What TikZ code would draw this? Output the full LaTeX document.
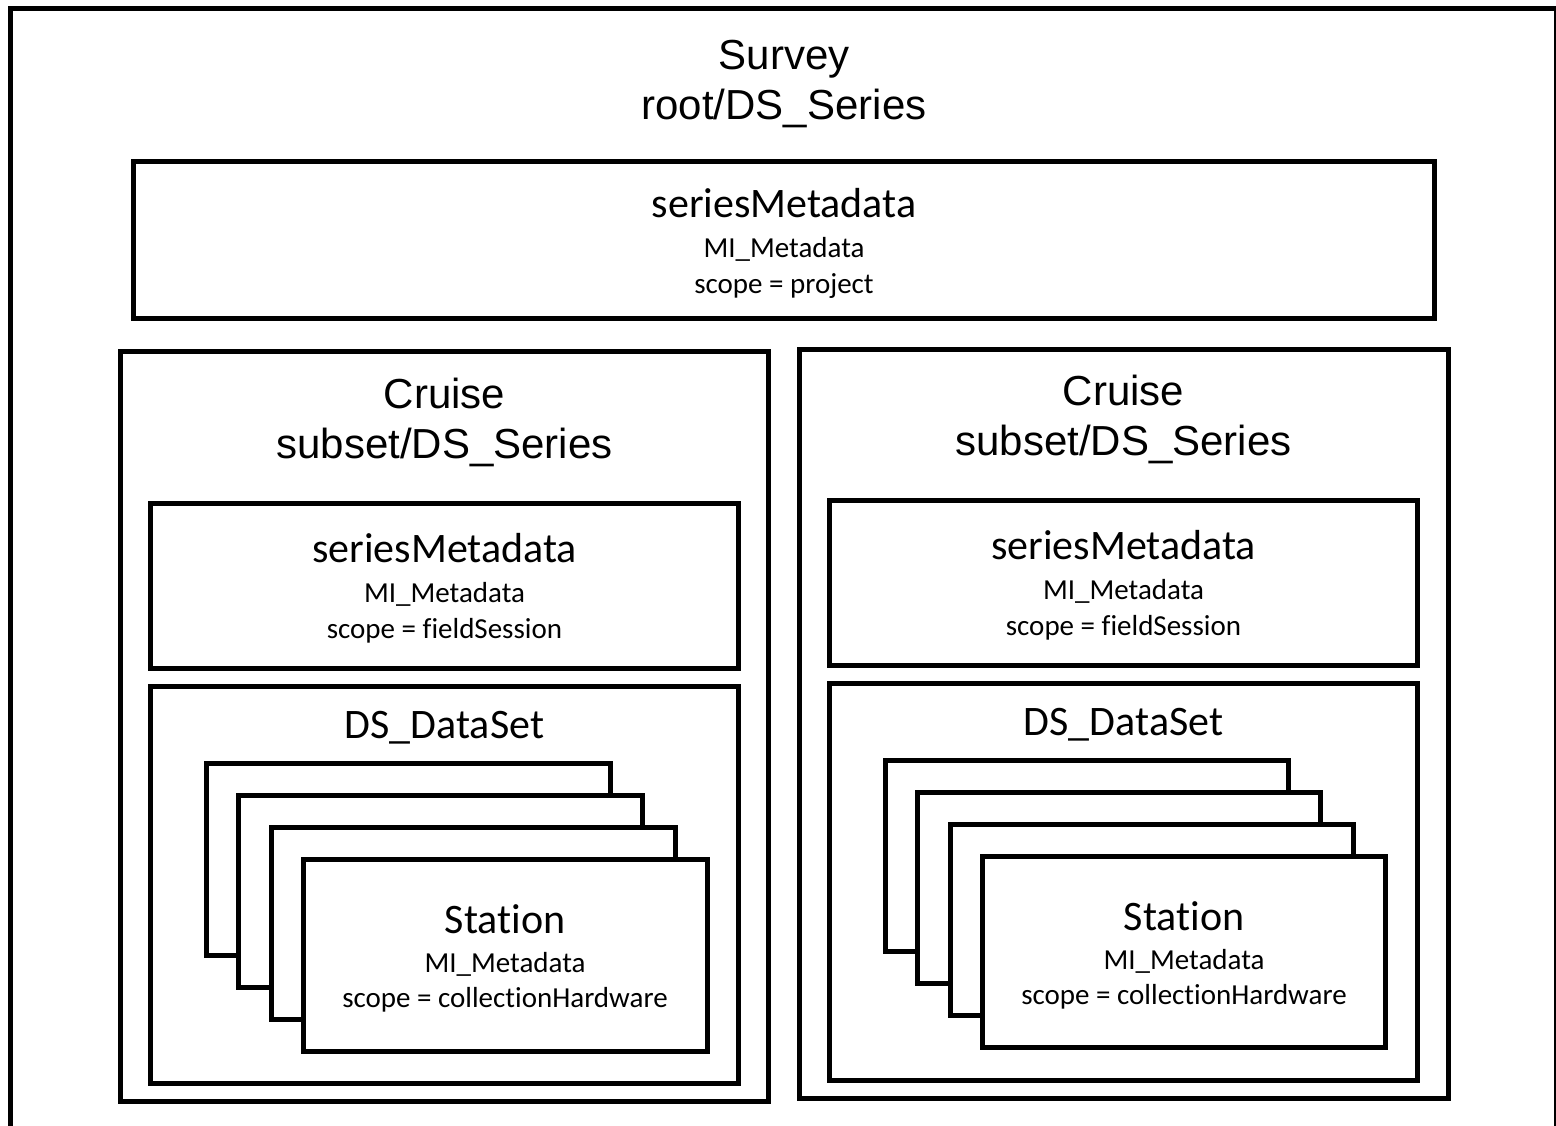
\documentclass[tikz,border=0pt]{standalone}
\usepackage{fontspec}
\newfontfamily\arialf{Liberation Sans}
\newfontfamily\calf[Ligatures=NoCommon]{Carlito}
\begin{document}
\begin{tikzpicture}[x=1pt,y=-1pt,
  box/.style={draw=black, line width=5pt, fill=white, rectangle, inner sep=0pt, outer sep=0pt, anchor=north west},
  ttl/.style={font=\arialf\fontsize{42}{48}\selectfont, inner sep=0pt, anchor=base},
  big/.style={font=\calf\fontsize{42}{48}\selectfont, inner sep=0pt, anchor=base},
  small/.style={font=\calf\fontsize{29}{34}\selectfont, inner sep=0pt, anchor=base}]
\useasboundingbox (0,0) rectangle (1556,1125);
\clip (0,0) rectangle (1556,1125);
\fill[white] (0,0) rectangle (1556,1125);
% outer survey frame (bottom lies below the page)
\node[box, minimum width=1546pt, minimum height=1132pt] (survey) at (10.5,8) {};
\node[ttl] (surveyA) at (784,69) {Survey};
\node[ttl] (surveyB) at (784,119) {root/DS\_Series};
% top seriesMetadata
\node[box, minimum width=1301pt, minimum height=157.5pt] (topsm) at (133.5,161) {};
\node[big] (topsmA) at (784,217) {seriesMetadata};
\node[small] (topsmB) at (784,257) {MI\_Metadata};
\node[small] (topsmC) at (784,293) {scope = project};
% left cruise
\node[box, minimum width=648pt, minimum height=750pt] (lcr) at (120.5,351.5) {};
\node[ttl] (lcrA) at (444.5,408) {Cruise};
\node[ttl] (lcrB) at (444.5,458) {subset/DS\_Series};
\node[box, minimum width=588pt, minimum height=165pt] (lsm) at (150.5,503) {};
\node[big] (lsmA) at (444.5,562.5) {seriesMetadata};
\node[small] (lsmB) at (444.5,602.5) {MI\_Metadata};
\node[small] (lsmC) at (444.5,638.5) {scope = fieldSession};
\node[box, minimum width=588pt, minimum height=397.5pt] (lds) at (150.5,686) {};
\node[big] (ldsA) at (444.5,738) {DS\_DataSet};
\node[box, minimum width=404pt, minimum height=192.5pt] (lc1) at (206,763) {};
\node[box, minimum width=404pt, minimum height=192.5pt] (lc2) at (238.5,795) {};
\node[box, minimum width=404pt, minimum height=192.5pt] (lc3) at (271,827) {};
\node[box, minimum width=404pt, minimum height=192.5pt] (lc4) at (303,859) {};
\node[big] (lstA) at (505,933) {Station};
\node[small] (lstB) at (505,972) {MI\_Metadata};
\node[small] (lstC) at (505,1007) {scope = collectionHardware};
% right cruise
\node[box, minimum width=648.5pt, minimum height=749pt] (rcr) at (799.5,349.5) {};
\node[ttl] (rcrA) at (1123.5,405) {Cruise};
\node[ttl] (rcrB) at (1123.5,455) {subset/DS\_Series};
\node[box, minimum width=588pt, minimum height=165pt] (rsm) at (829.5,500) {};
\node[big] (rsmA) at (1123.5,559.5) {seriesMetadata};
\node[small] (rsmB) at (1123.5,599.5) {MI\_Metadata};
\node[small] (rsmC) at (1123.5,635.5) {scope = fieldSession};
\node[box, minimum width=588pt, minimum height=397.5pt] (rds) at (829.5,683) {};
\node[big] (rdsA) at (1123.5,735) {DS\_DataSet};
\node[box, minimum width=403pt, minimum height=191.5pt] (rc1) at (885,760) {};
\node[box, minimum width=403pt, minimum height=191.5pt] (rc2) at (917.5,792) {};
\node[box, minimum width=403pt, minimum height=191.5pt] (rc3) at (950,824) {};
\node[box, minimum width=403pt, minimum height=191.5pt] (rc4) at (982.5,856) {};
\node[big] (rstA) at (1184,930) {Station};
\node[small] (rstB) at (1184,969) {MI\_Metadata};
\node[small] (rstC) at (1184,1004) {scope = collectionHardware};
\end{tikzpicture}
\end{document}
